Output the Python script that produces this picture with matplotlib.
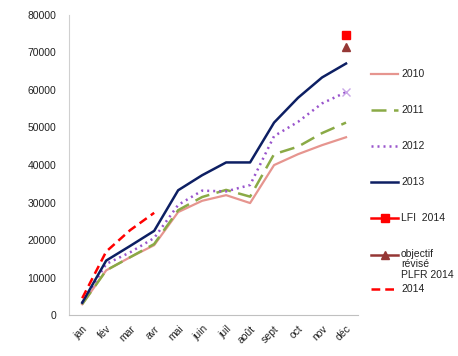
import matplotlib.pyplot as plt
from matplotlib.lines import Line2D

plt.rcParams['font.family'] = ['Liberation Sans', 'DejaVu Sans']

# data
months = ['jan', 'fév', 'mar', 'avr', 'mai', 'juin', 'juil', 'août', 'sept', 'oct', 'nov', 'déc']
v2010 = [3000, 12000, 15500, 18700, 27500, 30500, 32000, 29900, 40000, 42900, 45300, 47400]
v2011 = [3000, 12000, 15500, 19000, 28000, 31500, 33400, 31600, 42900, 44900, 48500, 51300]
v2012 = [3400, 13700, 16800, 20600, 29400, 33200, 33000, 34700, 47700, 51500, 56400, 59400]
v2013 = [3400, 14600, 18500, 22500, 33300, 37300, 40700, 40700, 51300, 57900, 63300, 67000]
v2014 = [4600, 17000, 22700, 27300]
lfi_2014 = 74600
objectif_plfr = 71300

x = list(range(len(months)))

fig = plt.figure(figsize=(4.58, 3.56), dpi=100)
ax = fig.add_axes([0.1507, 0.1138, 0.631, 0.845])

c2010 = '#E6958F'
c2011 = '#8AAA46'
c2012 = '#9954CC'
c2013 = '#0D1F63'
c2014 = '#FF0000'
cobj = '#953735'

ax.plot(x, v2010, color=c2010, lw=1.6)
ax.plot(x, v2011, color=c2011, lw=1.8, dashes=(6, 3))
ax.plot(x, v2012, color=c2012, lw=1.8, dashes=(0.8, 1.6))
ax.plot(x[-1], v2012[-1], marker='x', color='#C9A6E8', ms=6, mew=1)
ax.plot(x, v2013, color=c2013, lw=1.8)
ax.plot(x[:len(v2014)], v2014, color=c2014, lw=1.8, dashes=(3.5, 2))
ax.plot(x[-1], lfi_2014, marker='s', color=c2014, ms=5.5, ls='none')
ax.plot(x[-1], objectif_plfr, marker='^', color=cobj, ms=6, ls='none')

ax.set_xlim(-0.55, 11.5)
ax.set_ylim(0, 80000)
ax.set_yticks(range(0, 80001, 10000))
ax.set_xticks(x)
ax.set_xticklabels(months, rotation=45, ha='right', rotation_mode='anchor')
ax.tick_params(axis='both', length=0, labelsize=7.5, colors='#222222')
ax.tick_params(axis='y', pad=9)
ax.tick_params(axis='x', pad=6)

for s in ['top', 'right']:
    ax.spines[s].set_visible(False)
ax.spines['left'].set_color('#D0D0D0')
ax.spines['bottom'].set_color('#C0C0C0')

# legend drawn by hand to keep the wide spacing of the original
W, H = 458, 356

entries = [
    (74, '2010', dict(color=c2010, lw=1.6)),
    (110, '2011', dict(color=c2011, lw=1.8, dashes=(6, 3))),
    (146, '2012', dict(color=c2012, lw=1.8, dashes=(0.8, 1.6))),
    (182, '2013', dict(color=c2013, lw=1.8)),
    (218, 'LFI  2014', dict(color=c2014, lw=1.8, marker='s', ms=5.5, markevery=[1])),
    (255, 'objectif\nrévisé\nPLFR 2014', dict(color=cobj, lw=1.8, marker='^', ms=5.5, markevery=[1])),
    (289, '2014', dict(color=c2014, lw=1.8, dashes=(3.5, 2))),
]
for py, label, style in entries:
    yf = 1 - py / H
    fig.add_artist(Line2D([371 / W, 384.5 / W, 398 / W], [yf] * 3, **style))
    if '\n' in label:
        fig.text(401 / W, 1 - (py - 6) / H, label, va='top', ha='left',
                 fontsize=7.5, color='#222222', linespacing=1.05)
    else:
        fig.text(401 / W, yf, label, va='center', ha='left',
                 fontsize=7.5, color='#222222')

fig.savefig('out.png', dpi=100)
